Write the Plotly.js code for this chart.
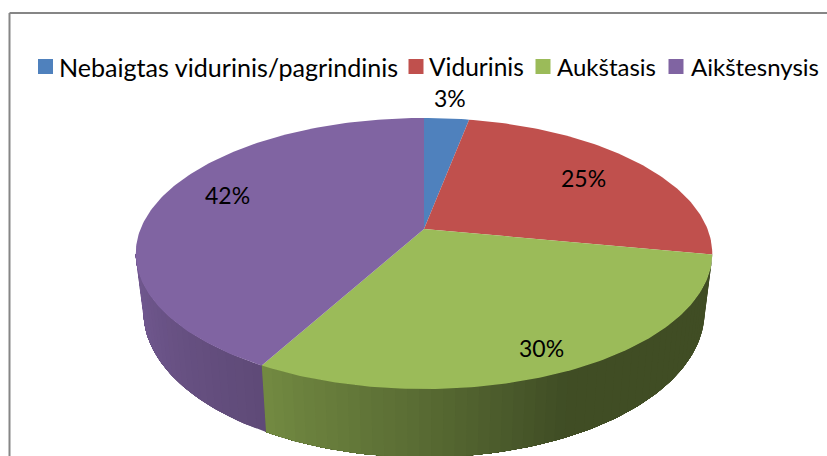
<!DOCTYPE html>
<html>
<head>
<meta charset="utf-8">
<script src="https://cdn.plot.ly/plotly-3.0.1.min.js"></script>
<style>
  html, body { margin: 0; padding: 0; background: #fff; }
  #chart { width: 827px; height: 456px; }
</style>
</head>
<body>
<div id="chart"></div>
<script>
// Data
const categories = ['Nebaigtas vidurinis/pagrindinis', 'Vidurinis', 'Aukštasis', 'Aikštesnysis'];
const values = [3, 25, 30, 42];
const colors = ['#4f81bd', '#c0504d', '#9bbb59', '#8064a2'];

// Where the percent labels and the legend sit on the page
const labelX = [450, 583, 541, 227];
const labelY = [98, 178, 348, 195];
const swatchX = [45.5, 416, 543, 676];
const legendTextX = [57, 427, 555, 689];
const legendFontSizes = [25.1, 24.5, 24, 24];
const LEGEND_Y = 66.5;

// Wall shading, by angle clockwise from the back of the pie
const shadeAngles = [100, 155, 180, 209, 260];
const shadeFactors = [0.41, 0.41, 0.57, 0.74, 0.9];

// Tilted disc as a perspective projection of a unit circle
const CX = 424;
const TILT = 0.1808;
const topFace = { k: 283.5, a: -89.7, b: 229 };
const bottomFace = { k: 276, a: -89.7, b: 285 };

function project(face, deg) {
    const t = deg * Math.PI / 180;
    const u = Math.sin(t), v = Math.cos(t);
    const d = 1 + TILT * v;
    return [CX + face.k * u / d, (face.a * v + face.b) / d];
}

function arcPoints(face, from, to) {
    const n = Math.max(2, Math.ceil(Math.abs(to - from)));
    const pts = [];
    for (let i = 0; i <= n; i++) pts.push(project(face, from + (to - from) * i / n));
    return pts;
}

function shadeAt(deg) {
    for (let i = 1; i < shadeAngles.length; i++) {
        if (deg <= shadeAngles[i]) {
            const f = (deg - shadeAngles[i - 1]) / (shadeAngles[i] - shadeAngles[i - 1]);
            return shadeFactors[i - 1] + f * (shadeFactors[i] - shadeFactors[i - 1]);
        }
    }
    return shadeFactors[shadeFactors.length - 1];
}

function darken(hex, s) {
    const n = parseInt(hex.slice(1), 16);
    return 'rgb(' + Math.round((n >> 16) * s) + ',' + Math.round(((n >> 8) & 255) * s) + ',' + Math.round((n & 255) * s) + ')';
}

function polygon(pts, color) {
    return {
        x: pts.map(p => p[0]), y: pts.map(p => p[1]),
        mode: 'lines', fill: 'toself', fillcolor: color,
        line: { color: color, width: 0 },
        hoverinfo: 'skip', showlegend: false
    };
}

const total = values.reduce((a, b) => a + b, 0);
const WALL_FROM = 100.4, WALL_TO = 259.6, STRIP = 2;
const wallTraces = [], faceTraces = [], legendTraces = [];

let start = 0;
values.forEach((val, i) => {
    const end = start + val / total * 360;

    // front wall in thin strips for the shading. Each strip runs on to the end of
    // the slice and the next one paints over it, so no seams show.
    const from = Math.max(start, WALL_FROM), to = Math.min(end, WALL_TO);
    for (let d = from; d < to; d += STRIP) {
        const e = Math.min(d + STRIP, to);
        const pts = arcPoints(topFace, d, to).concat(arcPoints(bottomFace, to, d));
        wallTraces.push(polygon(pts, darken(colors[i], shadeAt((d + e) / 2))));
    }

    // top face
    const apex = [CX, topFace.b];
    faceTraces.push(polygon([apex].concat(arcPoints(topFace, start, end), [apex]), colors[i]));

    legendTraces.push({
        x: [swatchX[i]], y: [LEGEND_Y], mode: 'markers',
        marker: { symbol: 'square', size: 15, color: colors[i] },
        hoverinfo: 'skip', showlegend: false
    });
    start = end;
});

const percentLabels = values.map((val, i) => ({
    x: labelX[i], y: labelY[i], text: val + '%', showarrow: false,
    font: { size: 23, color: '#000000' }
}));

const legendLabels = categories.map((cat, i) => ({
    x: legendTextX[i], y: LEGEND_Y, text: cat, showarrow: false, xanchor: 'left',
    font: { size: legendFontSizes[i], color: '#000000' }
}));

const layout = {
    width: 827,
    height: 456,
    margin: { l: 0, r: 0, t: 0, b: 0 },
    paper_bgcolor: '#ffffff',
    plot_bgcolor: '#ffffff',
    font: { family: 'Lato, sans-serif', color: '#000000' },
    xaxis: { range: [0, 827], visible: false, fixedrange: true },
    yaxis: { range: [456, 0], visible: false, fixedrange: true },
    showlegend: false,
    annotations: percentLabels.concat(legendLabels),
    shapes: [
        { type: 'line', x0: 9.5, x1: 9.5, y0: 13, y1: 456, line: { color: '#868686', width: 2 } },
        { type: 'line', x0: 9.5, x1: 827, y0: 13, y1: 13, line: { color: '#868686', width: 2 } }
    ]
};

Plotly.newPlot('chart', wallTraces.concat(faceTraces, legendTraces), layout, { displayModeBar: false, staticPlot: true });
</script>
</body>
</html>
